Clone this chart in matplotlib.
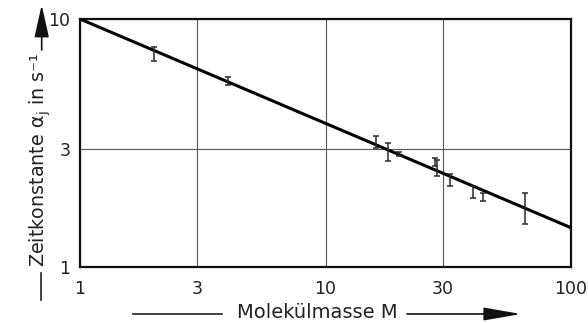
import numpy as np
import matplotlib
matplotlib.use("Agg")
import matplotlib.pyplot as plt
from matplotlib.lines import Line2D

plt.rcParams['font.family'] = ['DejaVu Sans']
plt.rcParams['mathtext.default'] = 'regular'

# measured points (molecular mass M, error bar lower / upper bound)
M = [2, 4, 16, 18, 20, 28, 28.5, 32, 40, 44, 65]
alpha_lo = [6.79, 5.42, 3.03, 2.68, 2.79, 2.56, 2.33, 2.13, 1.89, 1.85, 1.49]
alpha_hi = [7.73, 5.82, 3.38, 3.17, 2.90, 2.76, 2.70, 2.37, 2.12, 1.99, 1.99]

# fitted straight line (log-log), end points
fit_M = [1, 100]
fit_alpha = [10, 1.44]

xticks = [1, 3, 10, 30, 100]
yticks = [1, 3, 10]

lo = np.array(alpha_lo)
hi = np.array(alpha_hi)
mid = (lo + hi) / 2

fig = plt.figure(figsize=(5.88, 3.23), dpi=100)
ax = fig.add_axes([80/588, 1-267/323, 491/588, 248/323])

ax.plot(fit_M, fit_alpha, color='black', lw=2.2, solid_capstyle='butt', zorder=3)
ax.errorbar(M, mid, yerr=[mid-lo, hi-mid], fmt='none', ecolor='#2a2a2a',
            elinewidth=1.1, capsize=2.4, capthick=1.1, zorder=4)

ax.set_xscale('log')
ax.set_yscale('log')
ax.set_xlim(1, 100)
ax.set_ylim(1, 10)
ax.set_xticks(xticks)
ax.set_xticklabels([str(t) for t in xticks])
ax.set_yticks(yticks)
ax.set_yticklabels([str(t) for t in yticks])
ax.minorticks_off()
ax.tick_params(length=0, labelsize=12.5, colors='#222222')
ax.tick_params(axis='x', pad=9)
ax.tick_params(axis='y', pad=7)
ax.grid(True, color='#555555', lw=0.8)
for s in ax.spines.values():
    s.set_linewidth(1.6)
    s.set_color('#111111')

# y axis label with leading line and arrow
fig.text(40/588, 1-160/323, 'Zeitkonstante $\\alpha_j$ in s⁻¹', rotation=90,
         ha='center', va='center', fontsize=13.8, color='#222222')
fig.add_artist(Line2D([40.7/588, 40.7/588], [1-273/323, 1-300/323],
                      transform=fig.transFigure, color='#222222', lw=1.2))
ax.annotate('', xy=(41.7, 323-5), xytext=(41.7, 323-50),
            xycoords='figure pixels', textcoords='figure pixels',
            arrowprops=dict(arrowstyle='-|>,head_length=2.0,head_width=0.45',
                            mutation_scale=10, color='#111111', lw=1.2,
                            shrinkA=0, shrinkB=0))

# x axis label with lines and arrow
fig.text(317/588, 1-313/323, 'Molekülmasse M', ha='center', va='center',
         fontsize=14, color='#222222')
fig.add_artist(Line2D([133/588, 222/588], [1-314/323, 1-314/323],
                      transform=fig.transFigure, color='#222222', lw=1.2))
ax.annotate('', xy=(521, 323-314), xytext=(407, 323-314),
            xycoords='figure pixels', textcoords='figure pixels',
            arrowprops=dict(arrowstyle='-|>,head_length=2.3,head_width=0.4',
                            mutation_scale=10, color='#111111', lw=1.2,
                            shrinkA=0, shrinkB=0))

fig.savefig('out.png', dpi=100)
